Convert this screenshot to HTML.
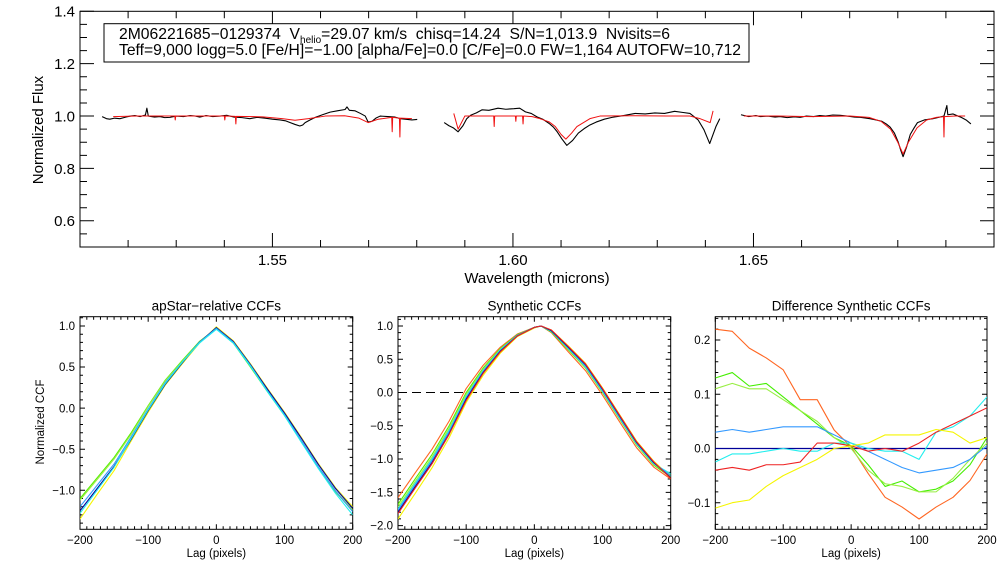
<!DOCTYPE html>
<html><head><meta charset="utf-8"><style>
body{margin:0;background:#fff;}
svg{display:block;font-family:"Liberation Sans",sans-serif;}
</style></head><body>
<svg id="fig" width="1008" height="576" viewBox="0 0 1008 576" xmlns="http://www.w3.org/2000/svg">
<rect x="0" y="0" width="1008" height="576" fill="#fff"/>
</svg>
<script>
// ---- Spectrum data ----
const obsWave1=[1.5146,1.5155,1.5162,1.5172,1.5183,1.5195,1.5205,1.5214,1.5225,1.5236,1.5239,1.5242,1.5255,1.5266,1.5276,1.5287,1.5300,1.5315,1.5329,1.5340,1.5349,1.5362,1.5376,1.5391,1.5405,1.5420,1.5437,1.5453,1.5468,1.5485,1.5500,1.5516,1.5527,1.5537,1.5547,1.5557,1.5563,1.5568,1.5578,1.5589,1.5604,1.5620,1.5635,1.5651,1.5655,1.5660,1.5672,1.5683,1.5693,1.5699,1.5707,1.5715,1.5724,1.5740,1.5755,1.5766,1.5776,1.5790,1.5801];
const obsFlux1=[0.998,0.990,0.988,0.992,0.990,0.996,1.000,1.002,0.998,1.004,1.030,1.000,0.996,0.998,0.994,0.995,1.000,0.998,1.002,1.000,0.996,1.002,0.998,1.000,1.003,0.996,0.994,0.990,0.995,0.992,0.988,0.985,0.982,0.975,0.968,0.962,0.966,0.975,0.985,0.995,1.005,1.015,1.020,1.025,1.035,1.022,1.020,1.010,1.000,0.977,0.980,0.992,1.000,0.998,0.996,0.990,0.988,0.985,0.987];
const obsWave2=[1.5857,1.5867,1.5876,1.5886,1.5896,1.5904,1.5912,1.5924,1.5936,1.5950,1.5969,1.5985,1.6002,1.6014,1.6026,1.6038,1.6050,1.6062,1.6075,1.6084,1.6092,1.6102,1.6112,1.6124,1.6136,1.6148,1.6160,1.6173,1.6190,1.6206,1.6230,1.6254,1.6275,1.6295,1.6315,1.6336,1.6352,1.6368,1.6385,1.6397,1.6409,1.6422,1.6430];
const obsFlux2=[0.975,0.963,0.955,0.940,0.963,0.990,1.003,1.012,1.024,1.022,1.030,1.026,1.028,1.030,1.016,1.010,0.997,0.988,0.972,0.958,0.940,0.912,0.888,0.907,0.935,0.952,0.966,0.977,0.988,0.995,1.002,1.010,1.008,1.012,1.010,1.018,1.014,1.010,0.985,0.948,0.895,0.960,0.990];
const obsWave3=[1.6474,1.6490,1.6505,1.6514,1.6530,1.6545,1.6555,1.6570,1.6585,1.6597,1.6610,1.6625,1.6638,1.6650,1.6665,1.6680,1.6695,1.6710,1.6722,1.6735,1.6742,1.6755,1.6767,1.6776,1.6784,1.6793,1.6801,1.6806,1.6811,1.6818,1.6826,1.6834,1.6841,1.6855,1.6873,1.6885,1.6896,1.6902,1.6904,1.6915,1.6925,1.6932,1.6942,1.6952];
const obsFlux3=[1.005,0.998,1.002,0.998,1.000,0.996,0.998,0.994,0.997,0.995,1.000,0.998,1.002,1.000,1.004,1.003,1.000,0.996,0.995,0.992,0.990,0.985,0.980,0.970,0.958,0.935,0.900,0.870,0.845,0.880,0.930,0.955,0.975,0.985,0.990,0.995,1.000,1.040,1.005,1.008,1.000,0.995,0.985,0.970];
const modWave1=[1.5169,1.5220,1.5297,1.5298,1.5299,1.5350,1.5400,1.5401,1.5402,1.5423,1.5424,1.5425,1.5480,1.5520,1.5547,1.5575,1.5610,1.5650,1.5680,1.5699,1.5720,1.5748,1.5749,1.5750,1.5764,1.5765,1.5766,1.5790];
const modFlux1=[0.998,1.000,1.000,0.985,1.000,1.000,1.000,0.985,1.000,0.999,0.970,0.999,0.997,0.990,0.984,0.990,1.000,1.001,0.992,0.975,0.988,0.995,0.940,0.995,0.992,0.920,0.992,0.990];
const modWave2=[1.5877,1.5886,1.5900,1.5960,1.5961,1.5962,1.6005,1.6006,1.6007,1.6020,1.6021,1.6022,1.6040,1.6056,1.6075,1.6088,1.6100,1.6110,1.6122,1.6133,1.6160,1.6181,1.6250,1.6320,1.6368,1.6389,1.6410,1.6416];
const modFlux2=[1.010,0.950,1.000,1.000,0.960,1.000,1.000,0.980,1.000,1.000,0.970,1.000,0.998,0.990,0.978,0.960,0.930,0.912,0.935,0.960,0.990,1.000,1.001,1.000,1.000,0.990,0.975,1.020];
const modWave3=[1.6480,1.6550,1.6620,1.6700,1.6740,1.6765,1.6785,1.6800,1.6811,1.6822,1.6840,1.6860,1.6880,1.6895,1.6896,1.6897,1.6920,1.6940];
const modFlux3=[1.000,1.000,0.998,1.000,0.995,0.980,0.950,0.900,0.855,0.900,0.955,0.985,0.995,0.998,0.920,0.998,1.000,1.000];
const specXTicks=[1.55,1.60,1.65];
const specXTickLabels=["1.55","1.60","1.65"];
const specYTicks=[0.6,0.8,1.0,1.2,1.4];
const specYTickLabels=["0.6","0.8","1.0","1.2","1.4"];

// ---- CCF data ----
const lagsCoarse=[-200,-175,-150,-125,-100,-75,-50,-25,0,25,50,75,100,125,150,175,200];
const relNavy=[-1.25,-0.98,-0.71,-0.38,-0.03,0.29,0.55,0.80,0.98,0.81,0.53,0.23,-0.06,-0.37,-0.69,-0.98,-1.22];
const relBlue=[-1.20,-0.94,-0.68,-0.35,-0.01,0.31,0.56,0.80,0.97,0.80,0.52,0.21,-0.08,-0.40,-0.72,-1.01,-1.26];
const relCyan=[-1.28,-1.00,-0.72,-0.37,-0.02,0.30,0.56,0.79,0.96,0.79,0.51,0.20,-0.09,-0.42,-0.74,-1.04,-1.30];
const relGreen=[-1.10,-0.85,-0.60,-0.30,0.03,0.34,0.58,0.81,0.97,0.79,0.50,0.20,-0.09,-0.41,-0.73,-1.02,-1.25];
const relLtGreen=[-1.12,-0.87,-0.62,-0.32,0.02,0.33,0.57,0.80,0.98,0.80,0.51,0.21,-0.08,-0.40,-0.72,-1.01,-1.24];
const relYellow=[-1.35,-1.05,-0.76,-0.40,-0.05,0.28,0.54,0.79,0.99,0.82,0.54,0.24,-0.05,-0.36,-0.68,-0.97,-1.20];
const relYTicks=[-1.0,-0.5,0.0,0.5,1.0];
const relYTickLabels=["\u22121.0","\u22120.5","0.0","0.5","1.0"];

const lagsSyn=[-200,-175,-150,-125,-100,-75,-50,-25,0,10,25,50,75,100,125,150,175,200];
const synNavy=[-1.80,-1.42,-1.05,-0.62,-0.10,0.30,0.62,0.85,0.98,1.00,0.93,0.68,0.42,0.05,-0.35,-0.75,-1.05,-1.28];
const synBlue=[-1.77,-1.39,-1.02,-0.59,-0.08,0.32,0.63,0.86,0.98,1.00,0.93,0.67,0.40,0.03,-0.37,-0.76,-1.06,-1.25];
const synCyan=[-1.75,-1.37,-1.00,-0.57,-0.06,0.33,0.64,0.86,0.98,1.00,0.92,0.66,0.39,0.02,-0.38,-0.77,-1.07,-1.22];
const synGreen=[-1.68,-1.30,-0.93,-0.50,0.00,0.37,0.66,0.87,0.98,1.00,0.91,0.64,0.37,0.00,-0.40,-0.79,-1.09,-1.27];
const synLtGreen=[-1.72,-1.34,-0.97,-0.54,-0.03,0.35,0.65,0.86,0.98,1.00,0.92,0.65,0.38,0.01,-0.39,-0.78,-1.08,-1.24];
const synOrange=[-1.58,-1.21,-0.85,-0.43,0.06,0.41,0.68,0.88,0.98,1.00,0.90,0.61,0.33,-0.04,-0.44,-0.83,-1.12,-1.30];
const synRed=[-1.82,-1.44,-1.07,-0.63,-0.12,0.29,0.61,0.85,0.98,1.00,0.94,0.69,0.43,0.06,-0.34,-0.74,-1.04,-1.29];
const synYellow=[-1.90,-1.52,-1.13,-0.68,-0.15,0.26,0.59,0.84,0.97,1.00,0.94,0.70,0.44,0.07,-0.33,-0.73,-1.03,-1.27];
const synYTicks=[-2.0,-1.5,-1.0,-0.5,0.0,0.5,1.0];
const synYTickLabels=["\u22122.0","\u22121.5","\u22121.0","\u22120.5","0.0","0.5","1.0"];

const diffOrange=[0.220,0.216,0.185,0.167,0.145,0.090,0.090,0.034,0.003,-0.046,-0.090,-0.108,-0.130,-0.108,-0.090,-0.059,-0.010];
const diffGreen=[0.130,0.140,0.115,0.120,0.095,0.070,0.045,0.020,0.005,-0.030,-0.070,-0.060,-0.080,-0.075,-0.060,-0.030,0.020];
const diffLtGreen=[0.110,0.120,0.110,0.110,0.090,0.070,0.050,0.020,0.000,-0.040,-0.065,-0.070,-0.080,-0.080,-0.055,-0.020,0.010];
const diffBlue=[0.030,0.035,0.030,0.035,0.040,0.040,0.040,0.025,0.010,-0.005,-0.020,-0.035,-0.045,-0.040,-0.035,-0.020,0.005];
const diffCyan=[-0.025,-0.010,-0.010,-0.005,0.000,-0.005,-0.005,0.010,0.010,0.000,-0.005,-0.005,-0.020,0.030,0.040,0.060,0.095];
const diffRed=[-0.040,-0.035,-0.040,-0.030,-0.030,-0.025,0.010,0.010,0.005,-0.005,0.000,-0.005,0.010,0.030,0.045,0.060,0.075];
const diffYellow=[-0.110,-0.100,-0.095,-0.070,-0.050,-0.035,-0.020,0.000,0.005,0.010,0.025,0.025,0.025,0.035,0.030,0.010,0.020];
const diffYTicks=[-0.1,0.0,0.1,0.2];
const diffYTickLabels=["\u22120.1","0.0","0.1","0.2"];
const lagTicks=[-200,-100,0,100,200];
const lagTickLabels=["\u2212200","\u2212100","0","100","200"];

const NS="http://www.w3.org/2000/svg";
const svg=document.getElementById('fig');
function el(tag,attrs,parent){const e=document.createElementNS(NS,tag);for(const k in attrs)e.setAttribute(k,attrs[k]);(parent||svg).appendChild(e);return e;}
function scale(d0,d1,r0,r1){return v=>r0+(v-d0)/(d1-d0)*(r1-r0);}

function axes(g,box,xd,yd,xt,xtl,yt,ytl,xminor,yminor,majL,minL,fs,prefix){
  const sx=scale(xd[0],xd[1],box.l,box.r), sy=scale(yd[0],yd[1],box.b,box.t);
  const frame=el('rect',{x:box.l,y:box.t,width:box.r-box.l,height:box.b-box.t,fill:'none',stroke:'#000','stroke-width':1},g);
  
  
  let p='';
  for(let v=Math.ceil(xd[0]/xminor-1e-6)*xminor; v<=xd[1]+1e-9; v+=xminor){
    const isMaj=xt.some(t=>Math.abs(t-v)<xminor/10); const L=isMaj?majL:minL; const x=sx(v);
    p+=`M${x},${box.b}v${-L}M${x},${box.t}v${L}`;
  }
  for(let v=Math.ceil(yd[0]/yminor-1e-6)*yminor; v<=yd[1]+1e-9; v+=yminor){
    const isMaj=yt.some(t=>Math.abs(t-v)<yminor/10); const L=isMaj?majL:minL; const y=sy(v);
    p+=`M${box.l},${y}h${L}M${box.r},${y}h${-L}`;
  }
  const ticks=el('path',{d:p,stroke:'#000','stroke-width':1,fill:'none'},g);
  
  
  xt.forEach((v,i)=>{const t=el('text',{x:sx(v),y:box.b+fs+3,'font-size':fs,'text-anchor':'middle'},g);t.textContent=xtl[i];
    
    });
  yt.forEach((v,i)=>{const t=el('text',{x:box.l-5,y:sy(v)+fs*0.36,'font-size':fs,'text-anchor':'end'},g);t.textContent=ytl[i];
    
    });
  return {sx,sy};
}
function line(g,sx,sy,xs,ys,color,name,w,clip){
  const n=Math.min(xs.length,ys.length);let d='';
  for(let i=0;i<n;i++)d+=(i?'L':'M')+sx(xs[i]).toFixed(2)+','+sy(ys[i]).toFixed(2);
  const e=el('path',{d:d,stroke:color,'stroke-width':w||1,fill:'none','stroke-linejoin':'round'},g);
  if(clip)e.setAttribute('clip-path',`url(#${clip})`);
  
  
  return e;
}
function clipFor(id,box){const c=el('clipPath',{id:id});el('rect',{x:box.l,y:box.t,width:box.r-box.l,height:box.b-box.t},c);}

// ---- Top spectrum panel ----
const gTop=el('g',{});


const boxTop={l:80,r:994,t:11.3,b:247};
const A=axes(gTop,boxTop,[1.51,1.70],[0.5,1.4],specXTicks,specXTickLabels,specYTicks,specYTickLabels,0.01,0.05,14,7,15,'spectrum');
[[obsWave1,obsFlux1],[obsWave2,obsFlux2],[obsWave3,obsFlux3]].forEach((s,i)=>line(gTop,A.sx,A.sy,s[0],s[1],'#000','observed-spectrum-segment-'+(i+1),1.1));
[[modWave1,modFlux1],[modWave2,modFlux2],[modWave3,modFlux3]].forEach((s,i)=>line(gTop,A.sx,A.sy,s[0],s[1],'#f01010','model-spectrum-segment-'+(i+1),1));
const xl=el('text',{x:537,y:283,'font-size':15,'text-anchor':'middle'},gTop);xl.textContent='Wavelength (microns)';


const yl=el('text',{x:0,y:0,'font-size':15,'text-anchor':'middle',transform:'translate(43,130) rotate(-90)'},gTop);yl.textContent='Normalized Flux';


const info=el('g',{},gTop);


el('rect',{x:104,y:23.7,width:645,height:38.3,fill:'#fff',stroke:'#000','stroke-width':1},info);
const t1=el('text',{x:119,y:39,'font-size':15.7},info);
t1.innerHTML='2M06221685\u22120129374  V<tspan font-size="10" dy="4">helio</tspan><tspan dy="-4">=29.07 km/s  chisq=14.24  S/N=1,013.9  Nvisits=6</tspan>';
t1.setAttribute('xml:space','preserve');t1.style.whiteSpace='pre';


const t2=el('text',{x:119,y:55,'font-size':15.7,textLength:622,lengthAdjust:'spacingAndGlyphs'},info);
t2.textContent='Teff=9,000 logg=5.0 [Fe/H]=\u22121.00 [alpha/Fe]=0.0 [C/Fe]=0.0 FW=1,164 AUTOFW=10,712';



// ---- Bottom panels ----
function ccfPanel(prefix,title,box,yd,yt,ytl,yminor,lags,series,extra){
  const g=el('g',{});
  
  
  clipFor(prefix+'-clip',box);
  const S=axes(g,box,[-200,200],yd,lagTicks,lagTickLabels,yt,ytl,10,yminor,5,3,11.5,prefix);
  if(extra)extra(g,S);
  series.forEach(s=>line(g,S.sx,S.sy,lags,s[0],s[1],prefix+'-'+s[2],1.1,prefix+'-clip'));
  const tt=el('text',{x:(box.l+box.r)/2,y:box.t-6,'font-size':13.5,'text-anchor':'middle'},g);tt.textContent=title;
  
  
  const xt=el('text',{x:(box.l+box.r)/2,y:557,'font-size':11.5,'text-anchor':'middle'},g);xt.textContent='Lag (pixels)';
  
  
  return g;
}
const gl=ccfPanel('apstar-ccf','apStar\u2212relative CCFs',{l:80,r:352.7,t:316.7,b:529.3},[-1.475,1.113],relYTicks,relYTickLabels,0.1,lagsCoarse,
 [[relYellow,'#f5f500','yellow-ccf'],[relGreen,'#55ee00','green-ccf'],[relLtGreen,'#99ee44','lightgreen-ccf'],[relNavy,'#000099','navy-ccf'],[relBlue,'#3399ff','blue-ccf'],[relCyan,'#22eeee','cyan-ccf']]);
const yc=el('text',{x:0,y:0,'font-size':11.5,'text-anchor':'middle',transform:'translate(44,422) rotate(-90)'},gl);yc.textContent='Normalized CCF';



ccfPanel('synthetic-ccf','Synthetic CCFs',{l:398,r:670.7,t:316.7,b:529.3},[-2.056,1.14],synYTicks,synYTickLabels,0.1,lagsSyn,
 [[synYellow,'#f5f500','yellow-ccf'],[synOrange,'#ff6622','orange-ccf'],[synGreen,'#55ee00','green-ccf'],[synLtGreen,'#99ee44','lightgreen-ccf'],[synCyan,'#22eeee','cyan-ccf'],[synBlue,'#3399ff','blue-ccf'],[synNavy,'#000099','navy-ccf'],[synRed,'#ee2222','red-ccf']],
 (g,S)=>{const z=el('line',{x1:S.sx(-200),x2:S.sx(200),y1:S.sy(0),y2:S.sy(0),stroke:'#000','stroke-dasharray':'9,5'},g);
   
   });

ccfPanel('diff-ccf','Difference Synthetic CCFs',{l:715.3,r:987,t:316.7,b:529.3},[-0.149,0.243],diffYTicks,diffYTickLabels,0.02,lagsCoarse,
 [[diffOrange,'#ff6622','orange-diff'],[diffGreen,'#44ee00','green-diff'],[diffLtGreen,'#99ee44','lightgreen-diff'],[diffBlue,'#3399ff','blue-diff'],[diffCyan,'#22eeee','cyan-diff'],[diffRed,'#ee2222','red-diff'],[diffYellow,'#f5f500','yellow-diff']],
 (g,S)=>{const z=el('line',{x1:S.sx(-200),x2:S.sx(200),y1:S.sy(0),y2:S.sy(0),stroke:'#000099','stroke-width':1.3},g);
   
   });
</script>
</body></html>
